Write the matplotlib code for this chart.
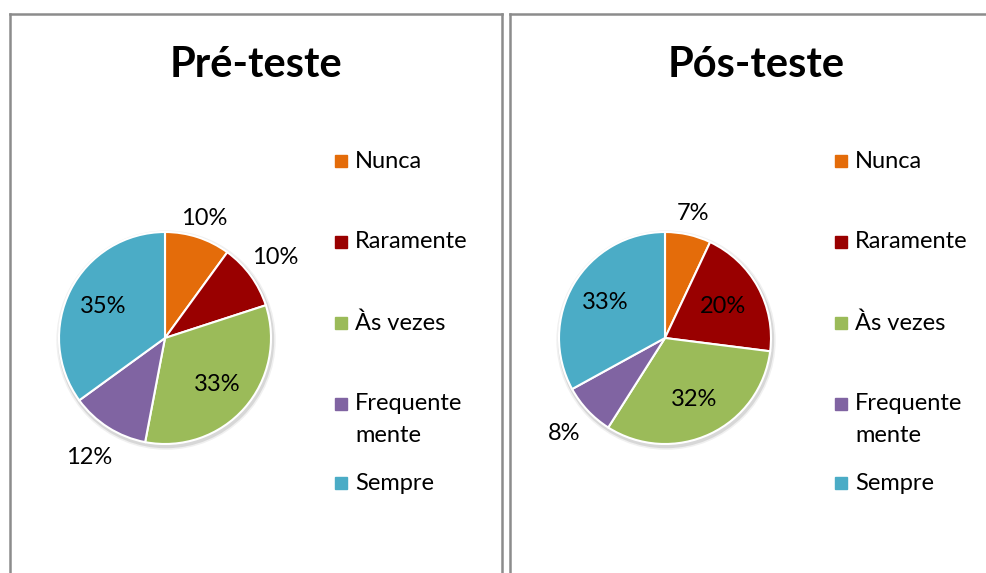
import matplotlib.pyplot as plt
from matplotlib.patches import Rectangle, Circle
from matplotlib.lines import Line2D
import numpy as np

categories = ["Nunca", "Raramente", "Às vezes", "Frequentemente", "Sempre"]
legend_labels = ["Nunca", "Raramente", "Às vezes", "Frequente\nmente", "Sempre"]
pre_values = [10, 10, 33, 12, 35]
post_values = [7, 20, 32, 8, 33]
titles = ["Pré-teste", "Pós-teste"]

colors = ["#E46C0A", "#990000", "#9BBB59", "#8064A2", "#4BACC6"]
# radial positions of the percent labels (in pie radii)
pre_label_r = [1.19, 1.29, 0.66, 1.34, 0.65]
post_label_r = [1.20, 0.62, 0.64, 1.31, 0.65]

W, H = 987, 573
plt.rcParams['font.family'] = ['Lato', 'DejaVu Sans']

fig = plt.figure(figsize=(W / 100, H / 100), dpi=100)


def fx(x):
    return x / W


def fy(y):
    return 1 - y / H


# panel borders
border = dict(color="#8c8c8c", lw=1.8, transform=fig.transFigure)
fig.add_artist(Line2D([fx(10), fx(10)], [fy(14), fy(580)], **border))
fig.add_artist(Line2D([fx(10), fx(502)], [fy(14), fy(14)], **border))
fig.add_artist(Line2D([fx(502), fx(502)], [fy(14), fy(580)], **border))
fig.add_artist(Line2D([fx(510), fx(510)], [fy(14), fy(580)], **border))
fig.add_artist(Line2D([fx(510), fx(995)], [fy(14), fy(14)], **border))

panels = [
    dict(values=pre_values, label_r=pre_label_r, cx=165, cy=338, title_x=256, leg_x=335),
    dict(values=post_values, label_r=post_label_r, cx=665, cy=338, title_x=756, leg_x=835),
]

R = 106  # pie radius in pixels
legend_y = [161, 242, 323, 404, 483]
fs = 17

for title, p in zip(titles, panels):
    # axes sized so that radius 1 == R pixels
    ax = fig.add_axes([fx(p["cx"] - R * 1.5), fy(p["cy"] + R * 1.5),
                       3 * R / W, 3 * R / H])

    # faint shadow around the pie
    for k, a in zip([1.035, 1.02], [0.06, 0.10]):
        ax.add_patch(Circle((0.01, -0.02), k, color="#000000", alpha=a, lw=0, zorder=0))

    wedges, _ = ax.pie(p["values"], colors=colors, startangle=90, counterclock=False,
                       radius=1, wedgeprops=dict(edgecolor="white", linewidth=1.5))
    ax.set_xlim(-1.5, 1.5)
    ax.set_ylim(-1.5, 1.5)
    ax.axis("off")

    for w, v, r in zip(wedges, p["values"], p["label_r"]):
        ang = np.deg2rad((w.theta1 + w.theta2) / 2)
        ax.text(r * np.cos(ang), r * np.sin(ang), f"{v}%", ha="center", va="center",
                fontsize=fs, color="black")

    fig.text(fx(p["title_x"]), fy(65), title, ha="center", va="center",
             fontsize=30, fontweight="bold")

    for lab, col, ly in zip(legend_labels, colors, legend_y):
        fig.add_artist(Rectangle((fx(p["leg_x"]), fy(ly + 6)), 12 / W, 12 / H,
                                 color=col, transform=fig.transFigure))
        if "\n" in lab:
            first, second = lab.split("\n")
            fig.text(fx(p["leg_x"] + 20), fy(ly), first, ha="left", va="center", fontsize=fs)
            fig.text(fx(p["leg_x"] + 20), fy(ly + 31), second, ha="left", va="center", fontsize=fs)
        else:
            fig.text(fx(p["leg_x"] + 20), fy(ly), lab, ha="left", va="center", fontsize=fs)

fig.savefig("out.png", dpi=100)
